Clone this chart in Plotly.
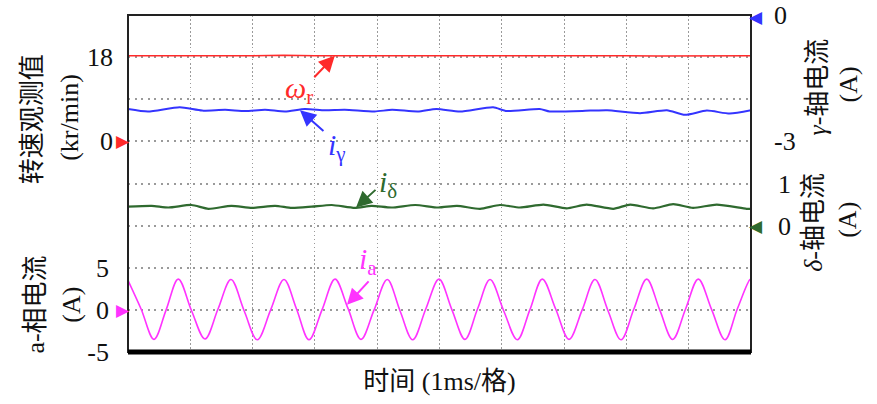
import plotly.graph_objects as go

# ---- measured traces (time in ms, 1 ms per division) ----
# rotor speed estimate, kr/min
wr_t = [0, 0.5, 1, 1.5, 2, 2.5, 3, 3.5, 4, 4.5, 5, 5.5, 6, 6.5, 7, 7.5, 8, 8.5, 9, 9.5, 10]
wr_v = [18.3, 18.35, 18.25, 18.3, 18.3, 18.4, 18.3, 18.25, 18.35, 18.3, 18.3,
        18.35, 18.25, 18.3, 18.3, 18.35, 18.3, 18.25, 18.3, 18.35, 18.3]

# gamma-axis current, A
ig_t = [0, 0.32, 0.83, 1.19, 1.56, 1.88, 2.20, 2.52, 2.84, 3.16, 3.48, 3.96, 4.24,
        4.65, 4.95, 5.33, 5.86, 6.08, 6.61, 6.77, 7.42, 7.69, 8.22, 8.65, 8.94,
        9.29, 9.66, 10]
ig_v = [-2.23, -2.29, -2.19, -2.27, -2.25, -2.28, -2.25, -2.29, -2.23, -2.26, -2.25,
        -2.29, -2.25, -2.29, -2.23, -2.29, -2.19, -2.28, -2.23, -2.29, -2.27, -2.26,
        -2.33, -2.26, -2.37, -2.27, -2.34, -2.26]

# delta-axis current, A
id_t = [0, 0.38, 0.65, 1.02, 1.29, 1.66, 1.99, 2.36, 2.63, 2.95, 3.27, 3.64, 3.91,
        4.23, 4.61, 4.98, 5.28, 5.65, 5.97, 6.29, 6.67, 7.04, 7.36, 7.79, 8.06,
        8.43, 8.75, 9.07, 9.45, 9.93, 10]
id_v = [0.45, 0.47, 0.43, 0.49, 0.40, 0.47, 0.42, 0.47, 0.42, 0.45, 0.49, 0.42, 0.47,
        0.43, 0.49, 0.43, 0.47, 0.40, 0.49, 0.43, 0.50, 0.41, 0.50, 0.40, 0.50,
        0.41, 0.51, 0.42, 0.50, 0.40, 0.40]

# a-phase current, A (peaks, zero crossings, troughs)
ia_t = [0, 0.21, 0.417, 0.612, 0.807, 1.02, 1.236, 1.445, 1.653, 1.864, 2.075, 2.29,
        2.504, 2.705, 2.905, 3.114, 3.323, 3.53, 3.740, 3.95, 4.162, 4.366, 4.570,
        4.78, 4.992, 5.20, 5.409, 5.61, 5.811, 6.03, 6.249, 6.45, 6.650, 6.865,
        7.079, 7.29, 7.496, 7.705, 7.913, 8.12, 8.326, 8.535, 8.743, 8.95, 9.154,
        9.37, 9.583, 9.78, 9.984, 10]
ia_v = [3.5, 0.1, -3.5, 0.0, 3.65, -0.1, -3.45, 0.1, 3.6, -0.1, -3.55, 0.0,
        3.6, 0.1, -3.55, 0.0, 3.65, 0.2, -3.5, 0.0, 3.6, -0.1, -3.55,
        0.1, 3.65, 0.0, -3.5, 0.1, 3.6, -0.1, -3.55, 0.0, 3.65, 0.1,
        -3.5, 0.0, 3.6, -0.1, -3.55, 0.1, 3.65, 0.0, -3.5, 0.1, 3.65,
        0.0, -3.55, 0.1, 3.6, 3.55]

# axis ticks
wr_ticks = [-45, -36, -27, -18, -9, 0, 9, 18, 27]
wr_text = ["", "", "", "", "", "0", "", "18", ""]
ia_ticks = [-5, 0, 5]
ia_text = ["-5", "0", "5"]
ig_ticks = [-3, 0]
ig_text = ["-3", "0"]
id_ticks = [0, 1]
id_text = ["0", "1"]

FONT = "Liberation Serif, Times New Roman, Noto Sans CJK SC, serif"
GRID = "#9a9a9a"
RED = "#ff2a2a"
BLUE = "#3434ff"
GREEN = "#2f6a2f"
MAGENTA = "#ff33ff"

fig = go.Figure()
fig.add_trace(go.Scatter(x=wr_t, y=wr_v, mode="lines", yaxis="y",
                         line=dict(color=RED, width=1.6)))
fig.add_trace(go.Scatter(x=ia_t, y=ia_v, mode="lines", yaxis="y2",
                         line=dict(color=MAGENTA, width=1.6, shape="spline", smoothing=1.0)))
fig.add_trace(go.Scatter(x=ig_t, y=ig_v, mode="lines", yaxis="y3",
                         line=dict(color=BLUE, width=2, shape="spline", smoothing=0.6)))
fig.add_trace(go.Scatter(x=id_t, y=id_v, mode="lines", yaxis="y4",
                         line=dict(color=GREEN, width=2.2, shape="spline", smoothing=0.6)))

tickfont = dict(family=FONT, size=26, color="#111")
common = dict(showline=False, zeroline=False, ticks="", automargin=False,
              tickfont=tickfont)

fig.update_layout(
    width=877, height=404,
    margin=dict(l=128, r=126, t=15, b=52),
    paper_bgcolor="white", plot_bgcolor="white",
    showlegend=False,
    xaxis=dict(range=[0, 10], dtick=1, tick0=0, showticklabels=False,
               showgrid=True, gridcolor=GRID, gridwidth=1, griddash="1.5px,2.5px",
               zeroline=False, showline=False, ticks="", automargin=False,
               title=dict(text="时间 (1ms/格)", standoff=19,
                          font=dict(family=FONT, size=26, color="#111"))),
    yaxis=dict(range=[-45, 27], tickvals=wr_ticks, ticktext=wr_text, side="left",
               showgrid=True, gridcolor=GRID, gridwidth=1.5, griddash="2px,4.5px",
               ticklabelstandoff=14, **common),
    yaxis2=dict(range=[-5, 35], tickvals=ia_ticks, ticktext=ia_text, overlaying="y",
                side="left", showgrid=False, ticklabelstandoff=18, **common),
    yaxis3=dict(range=[-8, 0], tickvals=ig_ticks, ticktext=ig_text, overlaying="y",
                side="right", showgrid=False, ticklabelstandoff=22, **common),
    yaxis4=dict(range=[-3, 5], tickvals=id_ticks, ticktext=id_text, overlaying="y",
                side="right", showgrid=False, ticklabelstandoff=26, **common),
)

# frame
fig.add_shape(type="rect", xref="paper", yref="paper", x0=0, x1=1, y0=0, y1=1,
              line=dict(color="#222", width=2))
fig.add_shape(type="line", xref="paper", yref="paper", x0=0, x1=1, y0=0, y1=0,
              line=dict(color="#000", width=5))

# channel zero markers, placed at each channel's zero level
def zero_marker(side, yref, color, yshift=0):
    if side == "left":
        fig.add_annotation(text="▶", xref="paper", x=0, xanchor="right", xshift=4,
                           yref=yref, y=0, yanchor="middle", yshift=yshift,
                           showarrow=False,
                           font=dict(family="DejaVu Sans", size=17, color=color))
    else:
        fig.add_annotation(text="◀", xref="paper", x=1, xanchor="left", xshift=-4,
                           yref=yref, y=0, yanchor="middle", yshift=yshift,
                           showarrow=False,
                           font=dict(family="DejaVu Sans", size=17, color=color))

zero_marker("left", "y", RED)
zero_marker("left", "y2", MAGENTA)
zero_marker("right", "y3", BLUE, yshift=-2)
zero_marker("right", "y4", GREEN)

tfont = dict(family=FONT, size=26, color="#111")
titles = [
    ("转速观测值", -0.153, 0.69),
    ("(kr/min)", -0.093, 0.695),
    ("a-相电流", -0.148, 0.14),
    ("(A)", -0.09, 0.14),
    ("<i>γ</i>-轴电流", 1.1075, 0.7875),
    ("(A)", 1.157, 0.7935),
    ("<i>δ</i>-轴电流", 1.101, 0.386),
    ("(A)", 1.1557, 0.3923),
]
for txt, xp, yp in titles:
    fig.add_annotation(text=txt, xref="paper", yref="paper", x=xp, y=yp,
                       textangle=-90, showarrow=False, font=tfont,
                       xanchor="center", yanchor="middle")

# trace labels with pointer arrows
def pointer(x, y, yref, ax, ay, color):
    fig.add_annotation(x=x, y=y, xref="x", yref=yref, ax=ax, ay=ay, text="",
                       showarrow=True, arrowhead=2, arrowsize=1.6, arrowwidth=2,
                       arrowcolor=color)

def label(txt, px, py, color):
    fig.add_annotation(text=txt, xref="paper", yref="paper",
                       x=(px - 128) / 623, y=(352 - py) / 336.5,
                       showarrow=False, xanchor="center", yanchor="middle",
                       font=dict(family=FONT, size=30, color=color))

pointer(3.32, 18.3, "y", -22, 23, RED)
label("<i>ω</i><sub>r</sub>", 299, 90, RED)

pointer(2.76, -2.26, "y3", 25, 22, BLUE)
label("<i>i</i><sub>γ</sub>", 337, 147, BLUE)

pointer(3.66, 0.43, "y4", 21, -19, GREEN)
label("<i>i</i><sub>δ</sub>", 388, 184, GREEN)

pointer(3.515, 0.6, "y2", 23, -25, MAGENTA)
label("<i>i</i><sub>a</sub>", 368, 261, MAGENTA)

fig.write_html("out.html")
